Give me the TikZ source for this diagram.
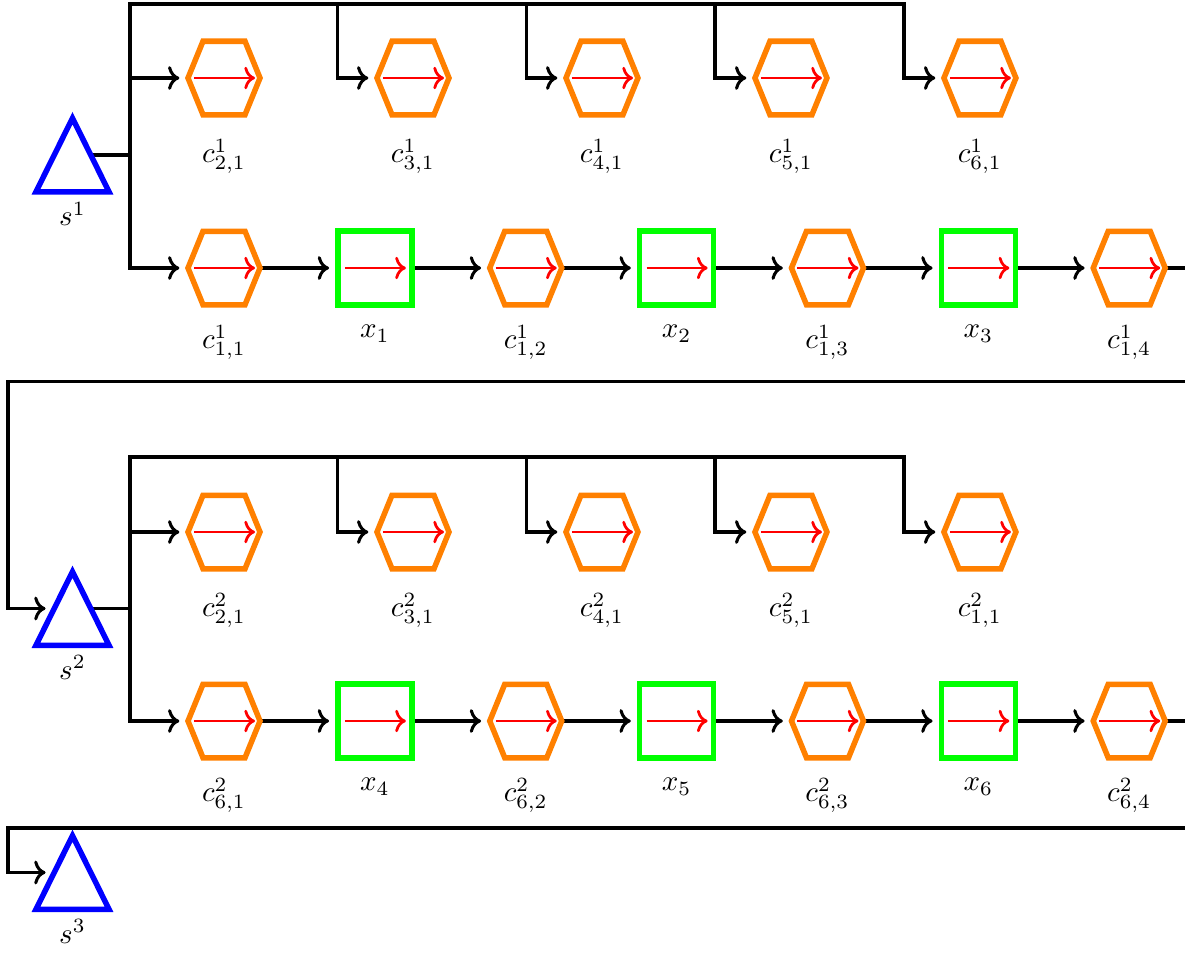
\documentclass[tikz,border=0pt]{standalone}
\usetikzlibrary{arrows.meta, positioning, calc, backgrounds}

\begin{document}
\begin{tikzpicture}[
    x = 0.345pt, y = -0.345pt,
    hexa/.style    = {minimum width=24.8pt, minimum height=25.4pt,
                      inner sep=0pt, outer sep=0pt},
    xbox/.style    = {draw=green, line width=1.9pt, minimum size=25.6pt,
                      inner sep=0pt, outer sep=0pt},
    src/.style     = {minimum width=25.2pt, minimum height=25.4pt,
                      inner sep=0pt, outer sep=0pt},
    lbl/.style     = {inner sep=3.33pt},
    hexline/.style = {draw=orange, line width=1.9pt},
    triline/.style = {draw=blue, line width=1.9pt},
    link/.style    = {black, line width=1.05pt},
    arr/.style     = {link, ->, shorten >=3pt},
    inarr/.style   = {red, line width=0.95pt, ->},
  ]
  \useasboundingbox (0,0) rectangle (1185,956);

  % block 1
  \node[src] (s1) at (72.5,155) {};
  \node[hexa] (p21) at (224,78) {};
  \node[hexa, right=40.4pt of p21] (p31) {};
  \node[hexa, right=40.4pt of p31] (p41) {};
  \node[hexa, right=40.4pt of p41] (p51) {};
  \node[hexa, right=40.4pt of p51] (p61) {};
  \node[hexa] (p11) at (224,268) {};
  \node[xbox, right=26.85pt of p11] (x1) {};
  \node[hexa, right=26.85pt of x1] (p12) {};
  \node[xbox, right=26.85pt of p12] (x2) {};
  \node[hexa, right=26.85pt of x2] (p13) {};
  \node[xbox, right=26.85pt of p13] (x3) {};
  \node[hexa, right=26.85pt of x3] (p14) {};

  % block 2
  \node[src] (s2) at (72.5,608.5) {};
  \node[hexa] (q21) at (224,532) {};
  \node[hexa, right=40.4pt of q21] (q31) {};
  \node[hexa, right=40.4pt of q31] (q41) {};
  \node[hexa, right=40.4pt of q41] (q51) {};
  \node[hexa, right=40.4pt of q51] (q11) {};
  \node[hexa] (q61) at (224,721) {};
  \node[xbox, right=26.85pt of q61] (x4) {};
  \node[hexa, right=26.85pt of x4] (q62) {};
  \node[xbox, right=26.85pt of q62] (x5) {};
  \node[hexa, right=26.85pt of x5] (q63) {};
  \node[xbox, right=26.85pt of q63] (x6) {};
  \node[hexa, right=26.85pt of x6] (q64) {};

  \node[src] (s3) at (72.5,872.5) {};

  % labels
  \foreach \n/\t in {p21/{c^1_{2,1}}, p31/{c^1_{3,1}}, p41/{c^1_{4,1}},
                     p51/{c^1_{5,1}}, p61/{c^1_{6,1}},
                     q21/{c^2_{2,1}}, q31/{c^2_{3,1}}, q41/{c^2_{4,1}},
                     q51/{c^2_{5,1}}, q11/{c^2_{1,1}}}
    \node[lbl, below=4.8pt of \n] (l\n) {$\t$};
  \foreach \n/\t in {p11/{c^1_{1,1}}, x1/{x_1}, p12/{c^1_{1,2}}, x2/{x_2},
                     p13/{c^1_{1,3}}, x3/{x_3}, p14/{c^1_{1,4}},
                     q61/{c^2_{6,1}}, x4/{x_4}, q62/{c^2_{6,2}}, x5/{x_5},
                     q63/{c^2_{6,3}}, x6/{x_6}, q64/{c^2_{6,4}}}
    \node[lbl, below=3.5pt of \n] (l\n) {$\t$};
  \foreach \n/\t in {s1/{s^1}, s2/{s^2}, s3/{s^3}}
    \node[lbl, below=0pt of \n] (l\n) {$\t$};

  % helper points
  \coordinate (b1) at (130,4);
  \coordinate (b2) at (130,457);
  \coordinate (r1) at (1185,381.5);
  \coordinate (e1) at (8,381.5);
  \coordinate (r2) at (1185,828);
  \coordinate (e2) at (8,828);
  \coordinate (s1out) at ($(s1.north)!.5!(s1.south east)$);
  \coordinate (s2out) at ($(s2.north)!.5!(s2.south east)$);
  \coordinate (s2in) at ($(s2.north)!.5!(s2.south west)$);
  \coordinate (s3in) at ($(s3.north)!.5!(s3.south west)$);
  \foreach \n in {p31, p41, p51, p61, q31, q41, q51, q11}
    \coordinate (d\n) at ([xshift=-13.8pt]\n.west);

  \begin{scope}[on background layer]
    % block 1
    \draw[link] (s1out) -- (s1out -| b1);
    \draw[arr, <->, shorten <=3pt] (p11) -| (b1) -| (dp61) -- (p61);
    \draw[arr] (b1 |- p21) -- (p21);
    \foreach \n in {p31, p41, p51}
      \draw[arr] (d\n |- b1) |- (\n);
    \draw[arr] (p11) -- (x1);
    \draw[arr] (x1) -- (p12);
    \draw[arr] (p12) -- (x2);
    \draw[arr] (x2) -- (p13);
    \draw[arr] (p13) -- (x3);
    \draw[arr] (x3) -- (p14);
    \draw[link] (p14) -- (p14 -| r1);
    \draw[arr] (r1) -- (e1) |- (s2in);
    % block 2
    \draw[link] (s2out) -- (s2out -| b2);
    \draw[arr, <->, shorten <=3pt] (q61) -| (b2) -| (dq11) -- (q11);
    \draw[arr] (b2 |- q21) -- (q21);
    \foreach \n in {q31, q41, q51}
      \draw[arr] (d\n |- b2) |- (\n);
    \draw[arr] (q61) -- (x4);
    \draw[arr] (x4) -- (q62);
    \draw[arr] (q62) -- (x5);
    \draw[arr] (x5) -- (q63);
    \draw[arr] (q63) -- (x6);
    \draw[arr] (x6) -- (q64);
    \draw[link] (q64) -- (q64 -| r2);
    \draw[arr] (r2) -- (e2) |- (s3in);
  \end{scope}

  % shapes
  \foreach \n in {p21, p31, p41, p51, p61, p11, p12, p13, p14,
                  q21, q31, q41, q51, q11, q61, q62, q63, q64}
    \draw[hexline] ($(\n)+(-36,0)$) -- ++(15,-36.75) -- ++(42,0)
      -- ++(15,36.75) -- ++(-15,36.75) -- ++(-42,0) -- cycle;
  \foreach \n in {s1, s2, s3}
    \draw[triline] (\n.south west) -- (\n.north) -- (\n.south east) -- cycle;
  \foreach \n in {p21, p31, p41, p51, p61, p11, p12, p13, p14,
                  q21, q31, q41, q51, q11, q61, q62, q63, q64,
                  x1, x2, x3, x4, x5, x6}
    \draw[inarr] ($(\n)+(-30,0)$) -- ($(\n)+(31,0)$);
\end{tikzpicture}
\end{document}
